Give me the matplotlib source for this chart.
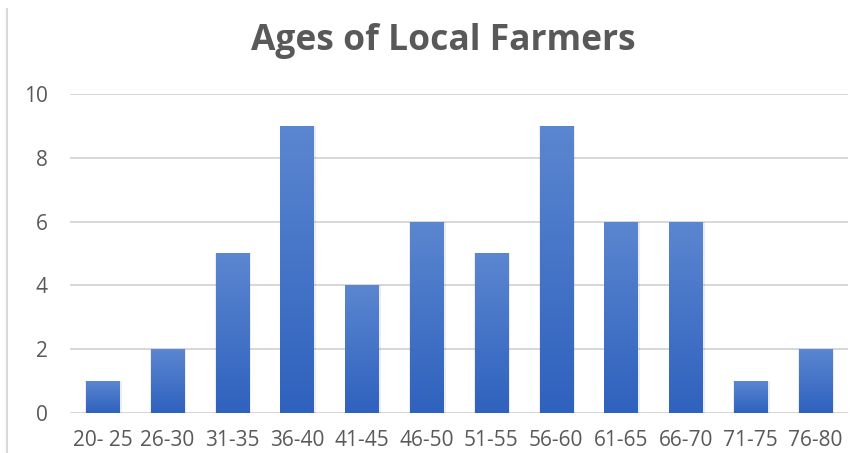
import numpy as np
import matplotlib.pyplot as plt
from matplotlib.colors import LinearSegmentedColormap
from matplotlib.lines import Line2D

plt.rcParams['font.family'] = ['Open Sans', 'DejaVu Sans']

age_groups = ["20- 25", "26-30", "31-35", "36-40", "41-45", "46-50",
              "51-55", "56-60", "61-65", "66-70", "71-75", "76-80"]
counts = [1, 2, 5, 9, 4, 6, 5, 9, 6, 6, 1, 2]
y_ticks = [0, 2, 4, 6, 8, 10]

text_grey = "#595959"
grad = LinearSegmentedColormap.from_list("bar_grad", ["#2f62be", "#5b86d0"])

fig = plt.figure(figsize=(8.65, 4.53), dpi=100)
ax = fig.add_axes([0.081, 0.0883, 0.899, 0.7042])

x = np.arange(len(age_groups))
width = 0.51

# soft drop shadow around each column
ax.bar(x + 0.015, counts, width=width + 0.05, color="#000000", alpha=0.07,
       zorder=2, linewidth=0)
bars = ax.bar(x, counts, width=width, color="#4472c4", zorder=3, linewidth=0)

# vertical gradient fill clipped to each bar
gradient = np.linspace(0, 1, 256).reshape(-1, 1)
for b in bars:
    x0, y0 = b.get_x(), b.get_y()
    w, h = b.get_width(), b.get_height()
    im = ax.imshow(gradient, cmap=grad, origin="lower", aspect="auto",
                   extent=[x0, x0 + w, y0, y0 + h], zorder=4)
    im.set_clip_path(b)

ax.set_xlim(-0.5, len(age_groups) - 0.5)
ax.set_ylim(0, 10)
ax.set_yticks(y_ticks)
ax.set_xticks(x)
ax.set_xticklabels(age_groups)
ax.yaxis.grid(True, color="#d4d4d4", linewidth=1.3, zorder=0)
ax.set_axisbelow(True)
for s in ax.spines.values():
    s.set_visible(False)
ax.tick_params(axis="both", length=0, colors=text_grey, labelsize=15)
ax.tick_params(axis="y", pad=16)
ax.tick_params(axis="x", pad=12)

fig.text(0.512, 0.91, "Ages of Local Farmers", ha="center", va="center",
         fontsize=25.5, fontweight="bold", color=text_grey)

# chart frame edge on the left
fig.add_artist(Line2D([0.008, 0.008], [0.0, 0.98], color="#d9d9d9",
                      linewidth=1.5, transform=fig.transFigure))

fig.savefig("out.png", dpi=100, facecolor="white")
